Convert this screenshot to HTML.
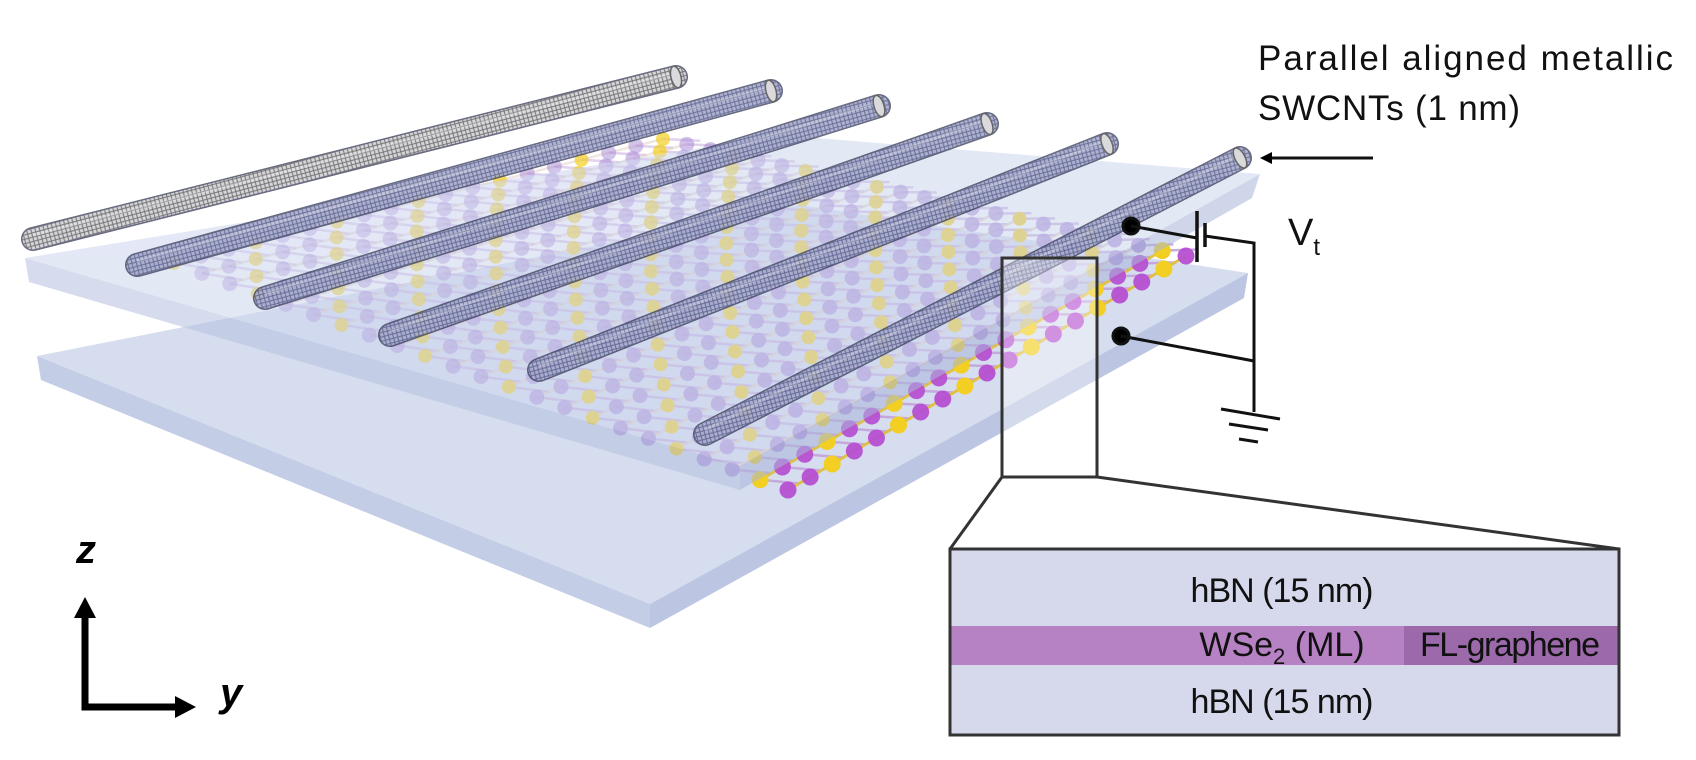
<!DOCTYPE html>
<html><head><meta charset="utf-8"><style>
html,body{margin:0;padding:0;background:#fff;}
svg{display:block;}
text{font-family:"Liberation Sans",sans-serif;}
</style></head><body>
<svg id="fig" width="1696" height="760" viewBox="0 0 1696 760" xmlns="http://www.w3.org/2000/svg">
<defs>
<pattern id="hatch" width="6" height="6" patternUnits="userSpaceOnUse" patternTransform="rotate(30)">
<rect width="6" height="6" fill="#a7aacd"/>
<path d="M0 0L6 6M6 0L0 6" stroke="#3c4470" stroke-width="1" opacity="0.7"/>
</pattern>
<pattern id="hatchGray" width="6" height="6" patternUnits="userSpaceOnUse" patternTransform="rotate(30)">
<rect width="6" height="6" fill="#d2d2d6"/>
<path d="M0 0L6 6M6 0L0 6" stroke="#444" stroke-width="1" opacity="0.75"/>
</pattern>
<marker id="ah" markerWidth="4" markerHeight="4" refX="2" refY="2" orient="auto" markerUnits="strokeWidth"><path d="M0 0L4 2L0 4z" fill="#000"/></marker>
</defs>

<g>
<polygon points="37,356 800,205 1248,273 650,604" fill="#d6ddef"/>
<polygon points="37,356 41,380 650,628 650,604" fill="#c4cde6"/>
<polygon points="650,604 650,628 1244,298 1248,273" fill="#bcc6e2"/>
</g>
<g id="lattice"></g>
<g opacity="0.55">
<polygon points="25,258 780,135 1260,174 740,466" fill="#cdd6ee"/>
<polygon points="25,258 29,282 740,490 740,466" fill="#b5c0e0"/>
<polygon points="740,466 740,490 1252,198 1260,174" fill="#aab6da"/>
</g>
<g id="tubes"></g>

<g fill="none" stroke="#333" stroke-width="3">
<rect x="1002" y="258" width="95" height="219" fill="#fff" fill-opacity="0.35"/>
<line x1="1002" y1="477" x2="950" y2="549"/>
<line x1="1097" y1="477" x2="1619" y2="549"/>
</g>

<g>
<rect x="950" y="549" width="669" height="186" fill="#d6d9ec" stroke="#333" stroke-width="3"/>
<rect x="951.5" y="626" width="666" height="39" fill="#b782c4"/>
<rect x="1404" y="626" width="213.5" height="39" fill="#9c6aab"/>
<text x="1282" y="602" font-size="34" text-anchor="middle" textLength="183" fill="#111">hBN (15 nm)</text>
<text x="1282" y="656" font-size="34" text-anchor="middle" fill="#111">WSe<tspan font-size="22" dy="8">2</tspan><tspan dy="-8"> (ML)</tspan></text>
<text x="1420" y="656" font-size="34" textLength="180" fill="#111">FL-graphene</text>
<text x="1282" y="713" font-size="34" text-anchor="middle" textLength="183" fill="#111">hBN (15 nm)</text>
</g>

<g stroke="#111" stroke-width="3" fill="none">
<circle cx="1131" cy="226" r="8" fill="#000"/>
<line x1="1131" y1="226" x2="1197" y2="238"/>
<line x1="1197" y1="211" x2="1197" y2="262" stroke-width="3.5"/>
<line x1="1205" y1="223" x2="1205" y2="247" stroke-width="3.5"/>
<polyline points="1205,236 1254,243 1254,412"/>
<circle cx="1121" cy="336" r="8" fill="#000"/>
<line x1="1121" y1="336" x2="1254" y2="361"/>
<line x1="1221" y1="409" x2="1280" y2="419"/>
<line x1="1229" y1="424" x2="1268" y2="430"/>
<line x1="1239" y1="439" x2="1258" y2="442"/>
</g>
<text x="1288" y="245" font-size="38" fill="#111">V<tspan font-size="24" dy="10">t</tspan></text>

<text x="1258" y="70" font-size="35" textLength="415" fill="#111">Parallel aligned metallic</text>
<text x="1258" y="120" font-size="35" textLength="262" fill="#111">SWCNTs (1 nm)</text>
<line x1="1373" y1="158" x2="1266" y2="158" stroke="#111" stroke-width="3" marker-end="url(#ah)"/>

<g>
<polyline points="85,613 85,707 180,707" fill="none" stroke="#000" stroke-width="7"/>
<polygon points="85,597 74,618 96,618" fill="#000"/>
<polygon points="196,707 175,696 175,718" fill="#000"/>
<text x="76" y="563" font-family="Liberation Serif,serif" font-size="40" font-style="italic" font-weight="bold">z</text>
<text x="220" y="706" font-family="Liberation Serif,serif" font-size="40" font-style="italic" font-weight="bold">y</text>
</g>
</svg>
<script>
// nanotube endpoints (left end, right end)
const tubeLeftX=[33,137,265,390,539,705];
const tubeLeftY=[239,265,298,335,370,434];
const tubeRightX=[676,771,879,987,1107,1240];
const tubeRightY=[77,91,106,124,144,158];
// lattice corners: back-left, back-right, front-right, front-left
const latX=[174,663,1186,788];
const latY=[263,139,256,490];
const NS='http://www.w3.org/2000/svg';
function mk(tag,attrs,parent){const e=document.createElementNS(NS,tag);for(const k in attrs)e.setAttribute(k,attrs[k]);parent.appendChild(e);return e;}
const lat=document.getElementById('lattice');
function P(u,v){
  const x=(1-u)*(1-v)*latX[0]+u*(1-v)*latX[1]+u*v*latX[2]+(1-u)*v*latX[3];
  const y=(1-u)*(1-v)*latY[0]+u*(1-v)*latY[1]+u*v*latY[2]+(1-u)*v*latY[3];
  return [x,y];
}
const NU=18,NV=22;
for(let i=0;i<=NU;i++){for(let j=0;j<=NV;j++){
  const u=i/NU,v=j/NV;const [x,y]=P(u,v);
  const front=v>0.93;
  const op=(0.5+0.45*v).toFixed(2);
  if(i<NU){const [x2,y2]=P((i+1)/NU,v);const l=mk('line',{x1:x,y1:y,x2:x2,y2:y2,stroke:front?'#e0c040':'#e2cfc4','stroke-width':front?3:2.5,opacity:op},lat);
    
    }
  if(j<NV){const [x2,y2]=P(u+0.5/NU,(j+1)/NV);const l=mk('line',{x1:x,y1:y,x2:x2,y2:y2,stroke:'#c4a6dc','stroke-width':2.5,opacity:op},lat);
    
    }
  const yellow=(i+j)%3===0;
  const c=mk('circle',{cx:x,cy:y,r:front?8.5:(yellow?7:7.5),fill:yellow?'#f2cf22':(front?'#b64fd2':'#a889d6'),opacity:yellow?Math.min(1,+op+0.2):op},lat);
  
  
}}
const tubes=document.getElementById('tubes');
for(let k=0;k<tubeLeftX.length;k++){
  const g=mk('g',{opacity:0.9},tubes);
  
  
  const x1=tubeLeftX[k],y1=tubeLeftY[k],x2=tubeRightX[k],y2=tubeRightY[k];
  mk('line',{x1:x1,y1:y1,x2:x2,y2:y2,stroke:'#2d3350','stroke-width':24,'stroke-linecap':'round',opacity:0.8},g);
  mk('line',{x1:x1,y1:y1,x2:x2,y2:y2,stroke:k===0?'url(#hatchGray)':'url(#hatch)','stroke-width':21,'stroke-linecap':'round'},g);
  mk('line',{x1:x1,y1:y1-4,x2:x2,y2:y2-4,stroke:'#fff','stroke-width':3,opacity:0.25},g);
  const ang=Math.atan2(y2-y1,x2-x1)*180/Math.PI;
  mk('ellipse',{cx:x2,cy:y2,rx:5,ry:11,fill:'#d6d6da',stroke:'#555','stroke-width':1.5,transform:`rotate(${ang} ${x2} ${y2})`},g);
}
</script>
</body></html>
